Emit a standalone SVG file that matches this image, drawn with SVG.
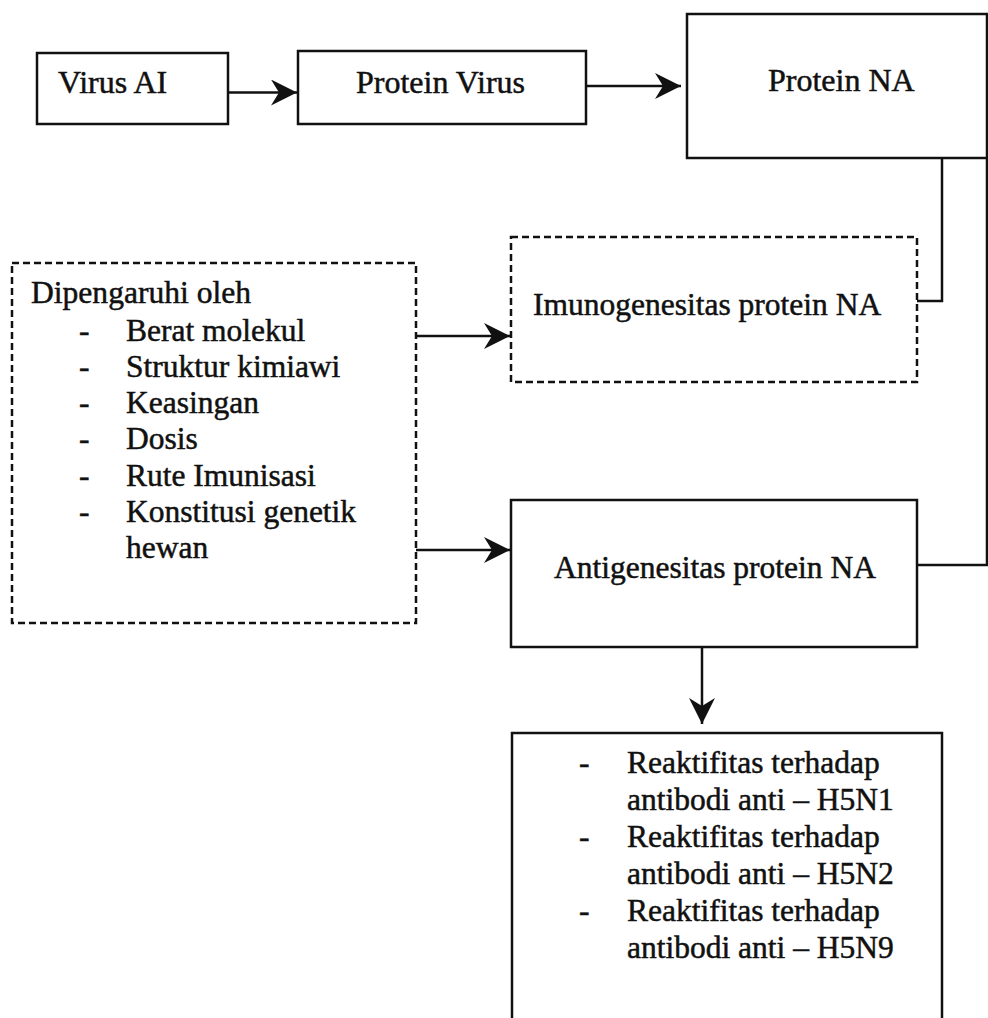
<svg xmlns="http://www.w3.org/2000/svg" width="988" height="1018" viewBox="0 0 988 1018">
<defs>
<style>
.box{fill:none;stroke:#111;stroke-width:2.5}
.dash{fill:none;stroke:#111;stroke-width:2.5;stroke-dasharray:7 4}
.ln{fill:none;stroke:#111;stroke-width:2.5}
.t{font-family:"Liberation Serif","Times New Roman",serif;font-size:31.5px;fill:#111;stroke:#111;stroke-width:0.5}
.tt{font-family:"Liberation Serif","Times New Roman",serif;font-size:32px;fill:#111;stroke:#111;stroke-width:0.5}
</style>
<marker id="ah" markerUnits="userSpaceOnUse" markerWidth="28" markerHeight="28" refX="26" refY="13" orient="auto">
<path d="M0,0 L26,13 L0,26 L8,13 Z" fill="#111"/>
</marker>
</defs>
<rect width="988" height="1018" fill="#fff"/>
<g id="connectors">
<path class="ln" d="M228,92.5 H297" marker-end="url(#ah)"/>
<path class="ln" d="M586,86 H681" marker-end="url(#ah)"/>
<path class="ln" d="M942,158 V301 H917"/>
<path class="ln" d="M987,158 V565 H917"/>
<path class="ln" d="M416,336 H510" marker-end="url(#ah)"/>
<path class="ln" d="M416,550 H510" marker-end="url(#ah)"/>
<path class="ln" d="M702,647 V724" marker-end="url(#ah)"/>
</g>
<g id="virus-ai">
<rect class="box" x="37" y="53" width="191" height="71"/>
<text class="tt" x="58" y="93">Virus AI</text>
</g>
<g id="protein-virus">
<rect class="box" x="298" y="51" width="288" height="73"/>
<text class="tt" x="356" y="93">Protein Virus</text>
</g>
<g id="protein-na">
<rect class="box" x="687" y="14" width="300" height="144"/>
<text class="tt" x="768" y="91">Protein NA</text>
</g>
<g id="faktor">
<rect class="dash" x="12" y="263" width="404" height="360"/>
<text class="t" x="31" y="303" textLength="220" lengthAdjust="spacingAndGlyphs">Dipengaruhi oleh</text>
<text class="t" x="79" y="340.5">-</text><text class="t" x="126" y="340.5">Berat molekul</text>
<text class="t" x="79" y="377">-</text><text class="t" x="126" y="377">Struktur kimiawi</text>
<text class="t" x="79" y="413">-</text><text class="t" x="126" y="413">Keasingan</text>
<text class="t" x="79" y="449">-</text><text class="t" x="126" y="449">Dosis</text>
<text class="t" x="79" y="486">-</text><text class="t" x="126" y="486">Rute Imunisasi</text>
<text class="t" x="79" y="522">-</text><text class="t" x="126" y="522">Konstitusi genetik</text>
<text class="t" x="126" y="558">hewan</text>
</g>
<g id="imunogenesitas">
<rect class="dash" x="511" y="237" width="406" height="145"/>
<text class="t" x="533" y="315">Imunogenesitas protein NA</text>
</g>
<g id="antigenesitas">
<rect class="box" x="511" y="500" width="406" height="147"/>
<text class="t" x="554" y="578">Antigenesitas protein NA</text>
</g>
<g id="reaktifitas">
<rect class="box" x="512" y="733" width="430" height="300"/>
<text class="t" x="579" y="773">-</text><text class="t" x="627" y="773">Reaktifitas terhadap</text>
<text class="t" x="627" y="810">antibodi anti – H5N1</text>
<text class="t" x="579" y="847">-</text><text class="t" x="627" y="847">Reaktifitas terhadap</text>
<text class="t" x="627" y="884">antibodi anti – H5N2</text>
<text class="t" x="579" y="921">-</text><text class="t" x="627" y="921">Reaktifitas terhadap</text>
<text class="t" x="627" y="958">antibodi anti – H5N9</text>
</g>
</svg>
